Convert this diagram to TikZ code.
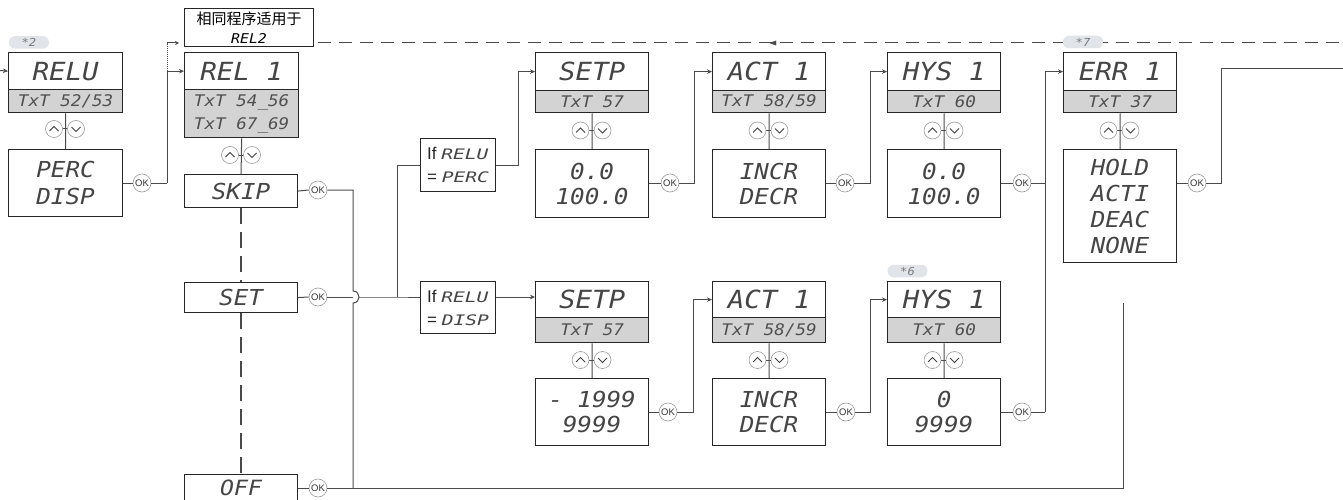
\documentclass[tikz,border=0pt]{standalone}
\usepackage{fontspec}
\setmainfont{Liberation Sans}
\newfontfamily\lcdfont[FakeStretch=1.1]{DejaVu Sans Mono}
\newfontfamily\lcdwidefont[FakeStretch=1.35]{DejaVu Sans Mono}
\newfontfamily\cjkfont{Noto Sans CJK SC}
\usetikzlibrary{arrows.meta}
\definecolor{boxdark}{HTML}{262626}
\definecolor{subfill}{HTML}{D3D3D3}
\definecolor{connc}{HTML}{4A4A4A}
\definecolor{ring}{HTML}{9A9A9A}
\definecolor{lcdtext}{HTML}{454545}
\definecolor{subtext}{HTML}{505050}
\definecolor{badgefill}{HTML}{E1E4E9}
\definecolor{badgetext}{HTML}{7A7A7A}
\begin{document}
\begin{tikzpicture}[x=1pt,y=-1pt,
  ttl/.style={draw=boxdark, line width=1.3pt, fill=white, anchor=north west, minimum width=113pt, minimum height=37pt, inner sep=0pt, text=lcdtext, font=\lcdfont\itshape\fontsize{25}{28}\selectfont},
  sub/.style={draw=boxdark, line width=1.3pt, fill=subfill, anchor=north west, minimum width=113pt, minimum height=23pt, inner sep=0pt, align=center, text=subtext, font=\lcdfont\itshape\fontsize{16}{23}\selectfont},
  val/.style={draw=boxdark, line width=1.1pt, fill=white, anchor=north west, minimum width=113pt, minimum height=68pt, inner sep=0pt, align=center, text=lcdtext, font=\lcdfont\itshape\fontsize{22}{25}\selectfont},
  opt/.style={val, minimum height=33pt},
  ifb/.style={draw=boxdark, line width=1pt, fill=white, anchor=north west, minimum width=75pt, minimum height=53pt, inner sep=0pt, align=left, text=black!85, font=\fontsize{17}{23}\selectfont},
  note/.style={draw=boxdark, line width=1pt, fill=white, anchor=north west, minimum width=129pt, minimum height=38pt, inner sep=0pt, align=center, font=\fontsize{15}{19}\selectfont},
  okc/.style={circle, draw=ring, line width=0.6pt, fill=white, minimum size=18pt, inner sep=0pt, text=black!80, font=\fontsize{9.5}{10}\selectfont},
  udc/.style={circle, draw=ring, line width=0.6pt, fill=white, minimum size=17pt, inner sep=0pt},
  chev/.style={draw=black!75, line width=1pt},
  conn/.style={draw=connc, line width=1pt},
  arr/.style={conn, -{Stealth[length=5pt,width=4.5pt]}},
  dashline/.style={conn, dash pattern=on 13pt off 8pt},
  vdash/.style={conn, line width=1.5pt, dash pattern=on 16pt off 8pt},
  badge/.style={fill=badgefill, rounded corners=6pt, minimum width=40pt, minimum height=12.5pt, inner sep=0pt, text=badgetext, font=\lcdfont\itshape\fontsize{11}{11}\selectfont},
  updown/.pic={
    \draw[conn] (-2.5,0) -- (2.5,0);
    \node[udc] (-up) at (-11,0) {};
    \node[udc] (-dn) at (11,0) {};
    \draw[chev] (-15.5,2) -- (-11,-2.5) -- (-6.5,2);
    \draw[chev] (6.5,-2) -- (11,2.5) -- (15.5,-2);
  }
]
\useasboundingbox (0,0) rectangle (1343,500);
\fill[white] (0,0) rectangle (1343,500);
\clip (0,0) rectangle (1343,500);

% ---- boxes ----
\node[ttl, minimum width=114pt] (relu) at (8,52) {RELU};
\node[sub, minimum width=114pt] (relus) at (8,89) {TxT 52/53};
\node[val, minimum width=114pt, minimum height=67pt, font=\lcdfont\itshape\fontsize{22}{27}\selectfont] (perc) at (8,149) {PERC\\DISP};

\node[note] (rel2) at (184,8) {{\cjkfont 相同程序适用于}\\{\lcdfont\itshape\fontsize{13.5}{19}\selectfont REL2}};
\node[ttl, minimum width=114pt] (rel1) at (184,52) {REL 1};
\node[sub, minimum width=114pt, minimum height=48pt] (rel1s) at (184,89) {TxT 54\_56\\TxT 67\_69};
\node[opt] (skip) at (184,174) {SKIP};
\node[opt, minimum height=30pt] (set) at (184,282) {SET};
\node[opt, minimum height=27pt, font=\lcdfont\itshape\fontsize{21}{24}\selectfont] (off) at (184,474) {OFF};

\node[ifb] (ifp) at (420,138) {If {\color{lcdtext}\lcdwidefont\itshape\fontsize{14.5}{23}\selectfont RELU}\\= {\color{lcdtext}\lcdwidefont\itshape\fontsize{14.5}{23}\selectfont PERC}};
\node[ifb, minimum height=52pt] (ifd) at (420,281) {If {\color{lcdtext}\lcdwidefont\itshape\fontsize{14.5}{23}\selectfont RELU}\\= {\color{lcdtext}\lcdwidefont\itshape\fontsize{14.5}{23}\selectfont DISP}};

\node[ttl, minimum height=38pt] (setp1) at (535,52) {SETP};
\node[sub, minimum height=22pt] (setp1s) at (535,90) {TxT 57};
\node[val] (v1) at (535,149) {0.0\\100.0};

\node[ttl, minimum height=38pt] (act1) at (712,52) {ACT 1};
\node[sub, minimum height=22pt] (act1s) at (712,90) {TxT 58/59};
\node[val] (incr1) at (712,149) {INCR\\DECR};

\node[ttl, minimum height=38pt] (hys1) at (887,52) {HYS 1};
\node[sub, minimum height=22pt] (hys1s) at (887,90) {TxT 60};
\node[val] (hv1) at (887,149) {0.0\\100.0};

\node[ttl, minimum height=38pt] (err1) at (1063,52) {ERR 1};
\node[sub, minimum height=22pt] (err1s) at (1063,90) {TxT 37};
\node[val, minimum height=113pt, font=\lcdfont\itshape\fontsize{22}{26}\selectfont] (hold) at (1063,149) {HOLD\\ACTI\\DEAC\\NONE};

\node[ttl, minimum height=36pt] (setp2) at (535,281) {SETP};
\node[sub, minimum height=25pt] (setp2s) at (535,317) {TxT 57};
\node[val, minimum height=67pt] (v2) at (535,378) {- 1999\\9999};

\node[ttl, minimum height=36pt] (act2) at (712,281) {ACT 1};
\node[sub, minimum height=25pt] (act2s) at (712,317) {TxT 58/59};
\node[val, minimum height=67pt] (incr2) at (712,378) {INCR\\DECR};

\node[ttl, minimum height=36pt] (hys2) at (887,281) {HYS 1};
\node[sub, minimum height=25pt] (hys2s) at (887,317) {TxT 60};
\node[val, minimum height=67pt] (hv2) at (887,378) {0\\9999};

% ---- OK buttons ----
\node[okc] (okperc) at (142,183) {OK};
\node[okc] (okskip) at (318,190) {OK};
\node[okc] (okset) at (318,297) {OK};
\node[okc] (okoff) at (318,488) {OK};
\node[okc] (okv1) at (670,183) {OK};
\node[okc] (oki1) at (845,183) {OK};
\node[okc] (okh1) at (1022,183) {OK};
\node[okc] (okhold) at (1197,183) {OK};
\node[okc] (okv2) at (668,412) {OK};
\node[okc] (oki2) at (846,412) {OK};
\node[okc] (okh2) at (1022,412) {OK};

% ---- coordinates ----
\coordinate (in) at (0,70.5);
\coordinate (jp) at (167,183);
\coordinate (jpd) at (167,43);
\coordinate (notetip) at (179,43);
\coordinate (dstart) at (318,43);
\coordinate (dend) at (1343,43);
\coordinate (darr) at (770,43);
\coordinate (jskip) at (353,190);
\coordinate (hopt) at (353,291);
\coordinate (hopb) at (353,303);
\coordinate (hopr) at (359,297);
\coordinate (jbot) at (353,488);
\coordinate (jset) at (397,297);
\coordinate (jlow) at (1045,412);
\coordinate (outr) at (1343,69);
\coordinate (offend) at (1123,303);

% ---- connectors ----
\draw[arr] (in) -- (relu.west);
\draw[conn] (relus.south) -- (perc.north);
\draw[conn] (perc.east |- okperc) -- (okperc.west);
\draw[conn] (okperc.east) -- (jp);
\draw[arr] (jp) |- (rel1.west);
\draw[conn, densely dotted] (rel1.west -| jp) -- (jpd);
\draw[conn, -{Stealth[length=4pt,width=4pt]}] (jpd) -- (notetip);
\draw[dashline] (dstart) -- (dend);
\draw[connc, fill=connc] (darr) -- ++(6,-2.2) -- ++(0,4.4) -- cycle;

\draw[conn] (rel1s.south) -- (skip.north);
\draw[vdash] (skip.south) -- (set.north);
\draw[vdash] (set.south) -- (off.north);

\draw[conn] (skip.east) -- (okskip.west);
\draw[conn] (okskip.east) -- (jskip) -- (hopt) .. controls (361,291) and (361,303) .. (hopb) -- (jbot);
\draw[conn] (set.east) -- (okset.west);
\draw[conn] (okset.east) -- (okset.east -| jskip);
\draw[conn] (hopr) -- (jset) -- (jset -| ifd.west);
\draw[conn] (jset) |- (ifp.west);
\draw[arr] (ifp.east) -- ++(22,0) |- (setp1.west);
\draw[arr] (ifd.east |- jset) -- (jset -| setp2.west);

\draw[conn] (off.east |- okoff) -- (okoff.west);
\draw[conn] (okoff.east) -- (okoff.east -| offend) -- (offend);

\draw[conn] (setp1s.south) -- (v1.north);
\draw[conn] (v1.east |- okv1) -- (okv1.west);
\draw[arr] (okv1.east) -- ++(15,0) |- (act1.west);
\draw[conn] (act1s.south) -- (incr1.north);
\draw[conn] (incr1.east |- oki1) -- (oki1.west);
\draw[arr] (oki1.east) -- ++(16,0) |- (hys1.west);
\draw[conn] (hys1s.south) -- (hv1.north);
\draw[conn] (hv1.east |- okh1) -- (okh1.west);
\draw[conn] (okh1.east) -- (okh1.east -| jlow);
\draw[conn] (okh2.east) -- (jlow);
\draw[arr] (jlow) |- (err1.west);
\draw[conn] (err1s.south) -- (hold.north);
\draw[conn] (hold.east |- okhold) -- (okhold.west);
\draw[conn] (okhold.east) -- ++(15.5,0) |- (outr);

\draw[conn] (setp2s.south) -- (v2.north);
\draw[conn] (v2.east |- okv2) -- (okv2.west);
\draw[arr] (okv2.east) -- ++(16,0) |- (act2.west);
\draw[conn] (act2s.south) -- (incr2.north);
\draw[conn] (incr2.east |- oki2) -- (oki2.west);
\draw[arr] (oki2.east) -- ++(15,0) |- (hys2.west);
\draw[conn] (hys2s.south) -- (hv2.north);
\draw[conn] (hv2.east |- okh2) -- (okh2.west);

% ---- up/down buttons ----
\pic (ud1) at (65,129) {updown};
\pic (ud2) at (241,155) {updown};
\pic (ud3) at (591.5,130.5) {updown};
\pic (ud4) at (768.5,130.5) {updown};
\pic (ud5) at (943.5,130.5) {updown};
\pic (ud6) at (1119.5,130.5) {updown};
\pic (ud7) at (591.5,360) {updown};
\pic (ud8) at (768.5,360) {updown};
\pic (ud9) at (943.5,360) {updown};

% ---- badges ----
\node[badge] (b2) at (29,42.5) {*2};
\node[badge] (b7) at (1083,42) {*7};
\node[badge] (b6) at (907.5,271) {*6};
\end{tikzpicture}
\end{document}
